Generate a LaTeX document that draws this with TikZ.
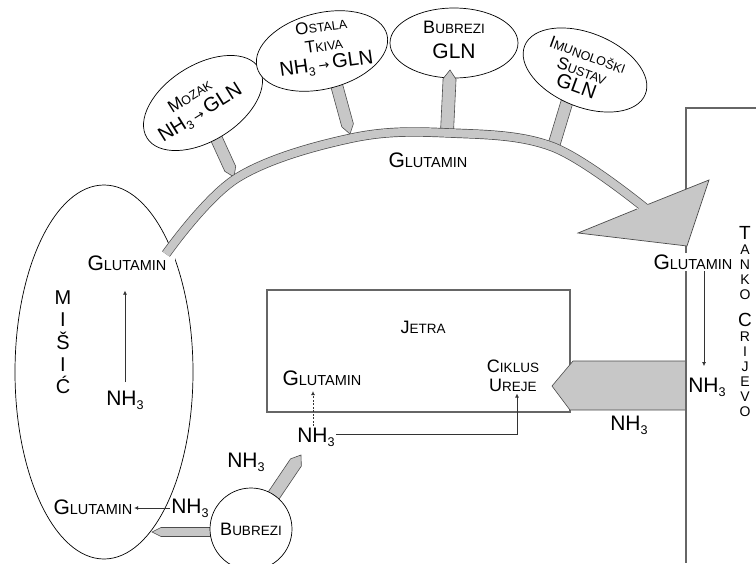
\documentclass[tikz,border=0pt]{standalone}
\usepackage{fontspec}
\setmainfont{Liberation Sans}
\newfontfamily\strfont{DejaVu Sans}
\usetikzlibrary{shapes.geometric,arrows.meta,calc}

% hand made small caps: big first letter, small rest
\newcommand{\kap}[2]{{\fontsize{21}{24}\selectfont #1}{\fontsize{14.5}{24}\selectfont #2}}
\newcommand{\kapm}[2]{{\fontsize{18}{20}\selectfont #1}{\fontsize{13.5}{20}\selectfont #2}}
\newcommand{\kapt}[2]{{\fontsize{17}{18}\selectfont #1}{\fontsize{12.5}{18}\selectfont #2}}
\newcommand{\nhtri}{NH\raisebox{-0.35ex}{\scalebox{0.6}{3}}}
\newcommand{\usmjer}{{\strfont\fontsize{13}{13}\selectfont →}}

\tikzset{dovodstil/.style={fill=black!22, draw=black!70, line width=0.6pt}}

% gray feed arrow with pointed end: #2 flat end, #3 tip
\newcommand{\dovod}[3][6pt]{%
  \filldraw[dovodstil] ($(#2)!#1!90:(#3)$) -- ($(#3)!9pt!(#2)!#1!-90:(#2)$)
    -- (#3) -- ($(#3)!9pt!(#2)!#1!90:(#2)$) -- ($(#2)!#1!-90:(#3)$) -- cycle;}
% gray feed band, flat ends
\newcommand{\pojas}[3][6pt]{%
  \filldraw[dovodstil] ($(#2)!#1!90:(#3)$) -- ($(#3)!#1!-90:(#2)$)
    -- ($(#3)!#1!90:(#2)$) -- ($(#2)!#1!-90:(#3)$) -- cycle;}

\begin{document}
\begin{tikzpicture}[x=1pt, y=-1pt,
    tekst/.style={inner sep=1.5pt, font=\fontsize{21}{24}\selectfont},
    organ/.style={draw, ellipse, fill=white, line width=0.7pt, inner sep=0pt},
    strel/.style={-{Latex[length=4pt,width=4pt]}, line width=0.7pt, black!80}]
\useasboundingbox (0,0) rectangle (756,563);

% misic
\node[organ, minimum width=178, minimum height=374] (misic) at (104,372) {};
\node[tekst, anchor=north, align=center, font=\fontsize{20}{22.3}\selectfont] (misicnaslov) at (63,289) {M\\I\\Š\\I\\Ć};
\node[tekst, fill=white, inner xsep=9pt, inner ysep=5pt] (glmisic) at (127,263) {\kap{G}{LUTAMIN}};
\node[tekst] (nhmisic) at (125,400) {\nhtri};
\node[tekst] (glmisic2) at (93,507) {\kap{G}{LUTAMIN}};
\node[tekst] (nhmisic2) at (190,508) {\nhtri};
\draw[strel, shorten <=7pt, shorten >=15pt] (nhmisic.north) -- (nhmisic.north |- glmisic.south);
\draw[strel] (nhmisic2.west) -- (nhmisic2.west -| glmisic2.east);

% bubrezi dolje
\coordinate (bubsrediste) at (251,529);
\coordinate (bubnh) at (301,455);
\coordinate (bubl) at (240,532);
\coordinate (misicul) at (152,532);
\dovod[6.5pt]{bubsrediste}{bubnh}
\dovod[4.5pt]{bubl}{misicul}
\node[draw, circle, fill=white, minimum size=82, inner sep=0pt, line width=0.7pt] (bubrezi) at (bubsrediste) {\kapm{B}{UBREZI}};
\node[tekst] (nhbub) at (246,462) {\nhtri};

% jetra
\node[draw=black!60, line width=1.2pt, minimum width=303, minimum height=122, inner sep=0pt] (jetra) at (418.5,351) {};
\node[tekst] (jetranaslov) at (423,327) {\kapm{J}{ETRA}};
\node[tekst] (gljetra) at (322,378) {\kap{G}{LUTAMIN}};
\node[tekst, align=center, font=\fontsize{14}{19}\selectfont] (ciklus) at (513,376) {\kapm{C}{IKLUS}\\\kapm{U}{REJE}};
\node[tekst] (nhjetra) at (316,437) {\nhtri};
\draw[strel, dash pattern=on 2pt off 1.5pt, shorten >=4pt] ([xshift=-3pt]nhjetra.north) -- ([xshift=-3pt]nhjetra.north |- gljetra.south);
\draw[strel] ([yshift=3pt]nhjetra.east) -| ([xshift=4pt]ciklus.south);

% tanko crijevo
\filldraw[dovodstil] (686,361) -- (573,361) -- (552,386) -- (570,410) -- (686,410);
\draw[draw=black!60, line width=1.2pt] (756,108) -- (686,108) -- (686,563);
\node[tekst] (nhdolje) at (629,425) {\nhtri};
\node[tekst, fill=white] (glcrijevo) at (693,262) {\kap{G}{LUTAMIN}};
\node[tekst] (nhcrijevo) at (707,387) {\nhtri};
\draw[strel, shorten >=10pt] ([xshift=11pt]glcrijevo.south) -- ([xshift=11pt]glcrijevo.south |- nhcrijevo.north);
\node[tekst, anchor=north, align=center, inner sep=0pt, font=\fontsize{14}{15}\selectfont] (crijevo) at (745,226)
  {{\fontsize{19}{15}\selectfont T}\\A\\N\\K\\O\\[12pt]{\fontsize{19}{15}\selectfont C}\\R\\I\\J\\E\\V\\O};

% organi gore
\coordinate (mozakc) at (203,103);
\coordinate (ostalac) at (322,51);
\coordinate (bubrezic) at (454,43);
\coordinate (imunoc) at (585,70);
\coordinate (mozaks) at (207,118);
\coordinate (mozakt) at (234,177);
\coordinate (ostalas) at (333,72);
\coordinate (ostalat) at (350,134);
\coordinate (imunot) at (553,148);
\coordinate (imunos) at (573,82);
\coordinate (bubrezis) at (447,132);
\coordinate (bubrezivrh) at (450,70);
\dovod{mozaks}{mozakt}
\dovod{ostalas}{ostalat}
\pojas{imunot}{imunos}
\node[organ, minimum width=132, minimum height=76, rotate=32] (mozak) at (mozakc) {};
\node[organ, minimum width=134, minimum height=76, rotate=14] (ostala) at (ostalac) {};
\node[organ, minimum width=128, minimum height=70] (bubrezigore) at (bubrezic) {};
\node[organ, minimum width=130, minimum height=74, rotate=-22] (imuno) at (imunoc) {};
\dovod[6.5pt]{bubrezis}{bubrezivrh}
\node[tekst, rotate=32, align=center, font=\fontsize{20}{20}\selectfont] (mozaktxt) at (196,106) {\kapt{M}{OZAK}\\\nhtri\,\usmjer\,GLN};
\node[tekst, rotate=8, align=center, font=\fontsize{20}{19}\selectfont] (ostalatxt) at (324,47) {\kapt{O}{STALA}\\\kapt{T}{KIVA}\\\nhtri\,\usmjer\,GLN};
\node[tekst, align=center, font=\fontsize{21}{25}\selectfont] (bubrezitxt) at (454,40) {\kapm{B}{UBREZI}\\GLN};
\node[tekst, rotate=-20, align=center, font=\fontsize{20}{17}\selectfont] (imunotxt) at (582,71) {\kapt{I}{MUNOLOŠKI}\\\kapt{S}{USTAV}\\GLN};

% glutamin u krvi
\draw[double=black!22, double distance=8pt, line width=0.7pt, draw=black!70]
  plot[smooth, tension=0.6] coordinates {(166,254) (237,178) (352,138) (450,133) (553,147) (645,208)};
\coordinate (baza1) at (648,204.4);
\coordinate (baza2) at (637,209);
\fill[black!22] (578,233) -- (709,180) -- (687,246) -- cycle;
\draw[black!70, line width=0.7pt] (baza1) -- (709,180) -- (687,246) -- (578,233) -- (baza2);
\node[tekst] (glpojas) at (428,160) {\kap{G}{LUTAMIN}};
\end{tikzpicture}
\end{document}
